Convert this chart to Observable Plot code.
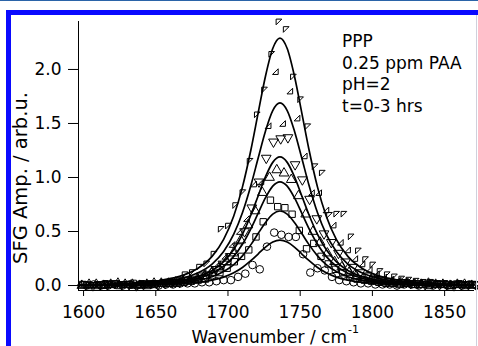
<!DOCTYPE html>
<html><head><meta charset="utf-8">
<script src="https://cdn.jsdelivr.net/npm/d3@7"></script>
<script src="https://cdn.jsdelivr.net/npm/@observablehq/plot@0.6"></script>
<style>
html,body{margin:0;padding:0;background:#fff;}
#wrap{position:relative;width:478px;height:346px;overflow:hidden;background:#fff;}
#wrap svg{position:absolute;left:0;top:0;}
.b{position:absolute;z-index:5;}
</style></head><body>
<div id="wrap">
<div class="b" style="left:0;top:0;width:478px;height:1px;background:#2b64a8"></div>
<div class="b" style="left:6px;top:10px;width:472px;height:5px;background:#0a0aff"></div>
<div class="b" style="left:6px;top:10px;width:5px;height:336px;background:#0a0aff"></div>
<div class="b" style="left:476px;top:15px;width:1px;height:331px;background:#d0d0dc"></div>
</div>
<script>
// ---- data ----
const wavenumber = [1600,1605,1610,1615,1620,1625,1630,1635,1640,1645,1650,1655,1660,1665,1670,1675,1680,1685,1690,1695,1700,1705,1710,1715,1720,1725,1730,1735,1740,1745,1750,1755,1760,1765,1770,1775,1780,1785,1790,1795,1800,1805,1810,1815,1820,1825,1830,1835,1840,1845,1850,1855,1860,1865,1870];
// sampling offset of each scan, cm^-1
const scanShift = [0.3, 2.8, 1.5, -1.2, -0.6, 2.0];
const amp1 = [0.01,0.00,0.01,0.02,0.00,0.01,0.01,0.00,0.02,0.01,0.02,0.03,0.03,0.05,0.10,0.12,0.17,0.20,0.29,0.52,0.55,0.74,0.86,1.15,1.58,1.81,2.14,2.44,2.37,1.93,1.72,1.47,1.10,1.04,0.65,0.66,0.66,0.45,0.32,0.24,0.19,0.13,0.10,0.08,0.06,0.05,0.04,0.03,0.03,0.02,0.02,0.01,0.02,0.01,0.01];
const amp2 = [0.01,0.01,0.00,0.01,0.02,0.01,0.00,0.01,0.01,0.02,0.02,0.03,0.03,0.05,0.07,0.08,0.12,0.15,0.20,0.27,0.38,0.50,0.62,0.94,0.96,1.48,1.98,1.50,1.80,1.55,1.20,0.86,0.86,0.70,0.56,0.40,0.33,0.25,0.20,0.15,0.11,0.08,0.06,0.05,0.04,0.03,0.03,0.02,0.02,0.01,0.02,0.01,0.01,0.01,0.00];
const amp3 = [0.01,0.00,0.01,0.01,0.02,0.01,0.01,0.00,0.01,0.02,0.01,0.02,0.03,0.03,0.05,0.06,0.09,0.10,0.15,0.20,0.27,0.36,0.50,0.72,0.96,1.18,1.33,1.36,1.37,1.12,0.98,0.80,0.62,0.48,0.40,0.30,0.22,0.17,0.12,0.09,0.07,0.05,0.04,0.03,0.03,0.02,0.02,0.01,0.02,0.01,0.01,0.00,0.01,0.01,0.01];
const amp4 = [0.00,0.01,0.01,0.00,0.01,0.02,0.01,0.01,0.00,0.01,0.02,0.02,0.02,0.03,0.04,0.05,0.06,0.09,0.12,0.16,0.22,0.30,0.42,0.56,0.69,0.86,1.00,1.07,1.04,0.98,0.83,0.66,0.50,0.40,0.30,0.22,0.17,0.12,0.09,0.07,0.05,0.04,0.03,0.03,0.02,0.02,0.01,0.01,0.02,0.01,0.01,0.00,0.01,0.01,0.00];
const amp5 = [0.01,0.00,0.00,0.01,0.01,0.00,0.01,0.02,0.01,0.00,0.01,0.02,0.02,0.02,0.03,0.04,0.05,0.06,0.09,0.12,0.16,0.22,0.27,0.33,0.45,0.59,0.79,0.73,0.72,0.66,0.51,0.34,0.39,0.27,0.20,0.15,0.12,0.08,0.06,0.05,0.04,0.03,0.02,0.02,0.01,0.02,0.01,0.01,0.00,0.01,0.01,0.00,0.01,0.00,0.01];
const amp6 = [0.00,0.01,0.00,0.00,0.01,0.00,0.01,0.00,0.01,0.01,0.00,0.01,0.01,0.02,0.02,0.02,0.03,0.03,0.04,0.05,0.05,0.08,0.11,0.19,0.15,0.36,0.49,0.47,0.45,0.45,0.29,0.12,0.16,0.14,0.08,0.05,0.04,0.03,0.02,0.02,0.01,0.01,0.01,0.00,0.01,0.01,0.00,0.01,0.00,0.01,0.00,0.01,0.00,0.01,0.00];
const fitX = [1596.5,1614,1634,1654,1669,1679,1689,1697,1704,1710,1716,1721,1726,1731,1736,1741,1746,1751,1756,1762,1768,1775,1783,1793,1803,1818,1838,1858,1870];
const fit1 = [0.007,0.012,0.023,0.049,0.096,0.158,0.270,0.427,0.643,0.911,1.264,1.605,1.940,2.194,2.29,2.194,1.940,1.605,1.264,0.911,0.643,0.427,0.270,0.158,0.096,0.049,0.023,0.012,0.009];
const fit2 = [0.005,0.009,0.017,0.036,0.071,0.116,0.199,0.315,0.475,0.673,0.933,1.185,1.431,1.619,1.69,1.619,1.431,1.185,0.933,0.673,0.475,0.315,0.199,0.116,0.071,0.036,0.017,0.009,0.006];
const fit3 = [0.004,0.006,0.012,0.026,0.050,0.082,0.140,0.222,0.334,0.474,0.657,0.834,1.008,1.140,1.19,1.140,1.008,0.834,0.657,0.474,0.334,0.222,0.140,0.082,0.050,0.026,0.012,0.006,0.005];
const fit4 = [0.003,0.005,0.010,0.021,0.040,0.066,0.113,0.179,0.270,0.382,0.530,0.673,0.813,0.920,0.96,0.920,0.813,0.673,0.530,0.382,0.270,0.179,0.113,0.066,0.040,0.021,0.010,0.005,0.004];
const fit5 = [0.002,0.004,0.007,0.015,0.029,0.048,0.081,0.129,0.194,0.275,0.381,0.484,0.584,0.661,0.69,0.661,0.584,0.484,0.381,0.275,0.194,0.129,0.081,0.048,0.029,0.015,0.007,0.004,0.003];
const fit6 = [0.001,0.002,0.004,0.009,0.018,0.029,0.050,0.078,0.118,0.167,0.232,0.294,0.356,0.402,0.42,0.402,0.356,0.294,0.232,0.167,0.118,0.078,0.050,0.029,0.018,0.009,0.004,0.002,0.002];
const xTicks = [1600,1650,1700,1750,1800,1850];
const yTicks = [0,0.5,1.0,1.5,2.0];
const annotation = ["PPP","0.25 ppm PAA","pH=2","t=0-3 hrs"];

// ---- symbols ----
const triTL = {draw(c, size){const s=Math.sqrt(size)/2; c.moveTo(-s,-s); c.lineTo(s,-s); c.lineTo(-s,s); c.closePath();}};
const triBR = {draw(c, size){const s=Math.sqrt(size)/2; c.moveTo(s,-s); c.lineTo(s,s); c.lineTo(-s,s); c.closePath();}};
const triUp = {draw(c, size){const a=Math.sqrt(size/(Math.sqrt(3)/4)), h=a*Math.sqrt(3)/2; c.moveTo(0,-2*h/3); c.lineTo(a/2,h/3); c.lineTo(-a/2,h/3); c.closePath();}};
const triDn = {draw(c, size){const a=Math.sqrt(size/(Math.sqrt(3)/4)), h=a*Math.sqrt(3)/2; c.moveTo(0,2*h/3); c.lineTo(a/2,-h/3); c.lineTo(-a/2,-h/3); c.closePath();}};

const seriesAmp = [amp1, amp2, amp3, amp4, amp5, amp6];
const seriesSym = [triTL, triBR, triDn, triUp, "square", "circle"];
const seriesR = [3.2, 3.2, 3.6, 3.6, 3.6, 3.8];
const fits = [fit1, fit2, fit3, fit4, fit5, fit6];

const dotMarks = seriesAmp.map((arr, i) => Plot.dot(
  wavenumber.map((w, k) => ({w: w + scanShift[i], a: arr[k]})),
  {x: "w", y: "a", symbol: seriesSym[i], r: seriesR[i], stroke: "black", fill: "none", strokeWidth: 1}
));
const lineMarks = fits.map(arr => Plot.line(
  fitX.map((w, k) => ({w, a: arr[k]})),
  {x: "w", y: "a", stroke: "black", strokeWidth: 1.7, curve: "monotone-x"}
));

const chart = Plot.plot({
  width: 478, height: 346,
  marginLeft: 78, marginRight: 5, marginTop: 21, marginBottom: 56,
  style: {fontFamily: "DejaVu Sans", fontSize: "17px", background: "transparent", color: "black"},
  x: {domain: [1596.5, 1870], ticks: xTicks, tickFormat: "d", tickSize: 6, tickPadding: 9, line: true, label: null},
  y: {domain: [-0.046, 2.444], ticks: yTicks, tickFormat: ".1f", tickSize: 10, tickPadding: 7, line: true, label: null},
  marks: [...dotMarks, ...lineMarks]
});
document.getElementById("wrap").prepend(chart);

const svg = d3.select(chart);
svg.append("text").attr("transform", "translate(27,178) rotate(-90)")
  .attr("text-anchor", "middle").attr("font-size", 19.5).attr("fill", "black")
  .text("SFG Amp. / arb.u.");
svg.append("text").attr("x", 347).attr("y", 343).attr("text-anchor", "end")
  .attr("font-size", 17).attr("fill", "black").text("Wavenumber / cm");
svg.append("text").attr("x", 348).attr("y", 333).attr("text-anchor", "start")
  .attr("font-size", 11).attr("fill", "black").text("-1");
const ann = svg.append("text").attr("font-size", 17).attr("fill", "black").attr("text-anchor", "start");
annotation.forEach((t, i) => ann.append("tspan").attr("x", 342).attr("y", 47 + i * 21.7).text(t));
</script>
</body></html>
